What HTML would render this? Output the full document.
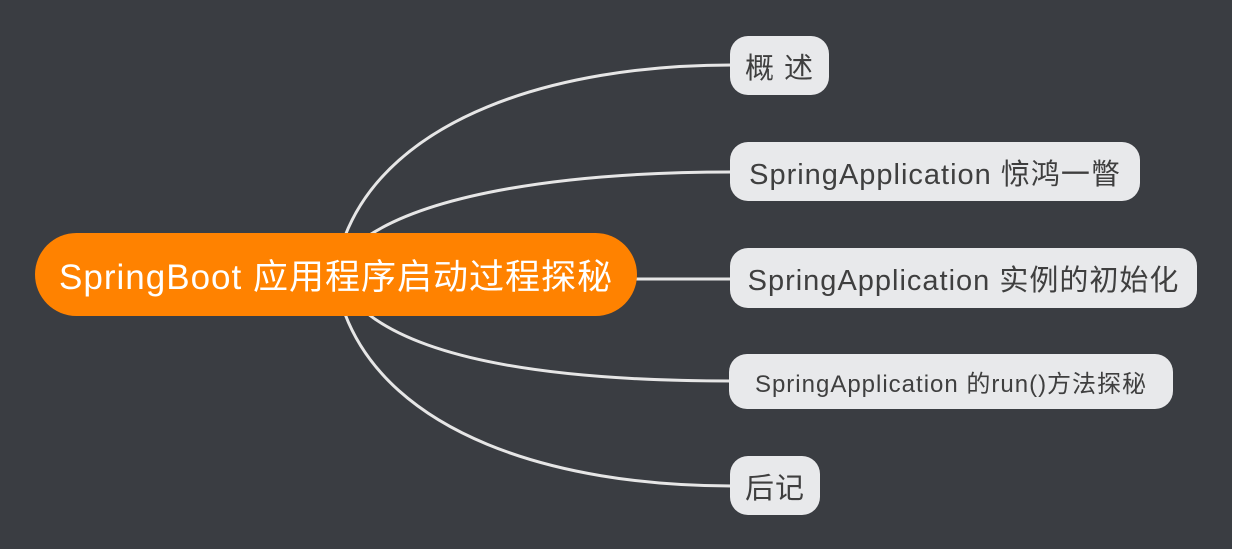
<!DOCTYPE html>
<html><head><meta charset="utf-8"><style>
html,body{margin:0;padding:0;background:#fff;}
#c{position:relative;width:1240px;height:553px;background:#fff;overflow:hidden;}
#bg{position:absolute;left:0;top:0;width:1232px;height:549px;background:#3a3d42;}
.n{position:absolute;display:flex;align-items:center;justify-content:center;white-space:nowrap;font-family:"Liberation Sans","Noto Sans CJK SC",sans-serif;letter-spacing:1px;}
.b{background:#e8e9eb;color:#3f3f3f;border-radius:18px;font-size:29px;}
</style></head><body><div id="c"><div id="bg"></div>
<svg style="position:absolute;left:0;top:0" width="1240" height="553">
<g fill="none" stroke="#e6e6e6" stroke-width="3">
<path d="M345,236 C390,120 550,65 732,65"/>
<path d="M368,236 C430,195 560,172 732,172"/>
<path d="M630,279 L732,279"/>
<path d="M368,314 C430,362 560,381 732,381"/>
<path d="M345,314 C390,432 550,486 732,486"/>
</g></svg>
<div class="n" style="left:35px;top:233px;width:602px;height:83px;background:#ff8200;color:#fff;border-radius:42px;font-size:35px;">SpringBoot 应用程序启动过程探秘</div>
<div class="n b" style="left:730px;top:36px;width:99px;height:59px;">概 述</div>
<div class="n b" style="left:730px;top:142px;width:410px;height:59px;">SpringApplication 惊鸿一瞥</div>
<div class="n b" style="left:730px;top:248px;width:467px;height:60px;">SpringApplication 实例的初始化</div>
<div class="n b" style="left:729px;top:354px;width:444px;height:55px;font-size:24px;">SpringApplication 的run()方法探秘</div>
<div class="n b" style="left:730px;top:456px;width:90px;height:59px;">后记</div>
</div></body></html>
